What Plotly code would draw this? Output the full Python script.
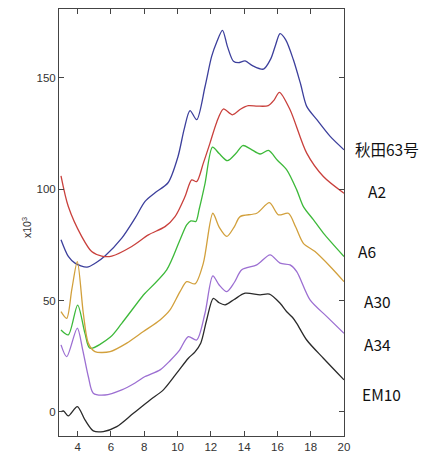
import plotly.graph_objects as go

# ---------------- data ----------------
series_names = ["秋田63号", "A2", "A6", "A30", "A34", "EM10"]

x_akita = [3, 3.44, 3.84, 4.56, 5.1, 5.64, 6.65, 7.45, 8.05, 8.65, 9.43, 10.03, 10.4, 10.75,
           11.15, 11.65, 12.05, 12.35, 12.7, 13.0, 13.36, 13.66, 14.06, 14.5, 15.16, 15.6,
           15.9, 16.16, 16.5, 16.96, 17.4, 17.76, 18.37, 19.17, 20]
y_akita = [77.3, 69.8, 66.8, 65.0, 67.0, 70.0, 78.0, 87.0, 94.5, 98.4, 102.9, 114.7, 127, 135.3,
           131.2, 146, 159.6, 166, 171.3, 164, 157.4, 156.8, 157.6, 155.5, 153.9, 158.5,
           165, 169.8, 167, 158.1, 147, 137.2, 131.2, 123.7, 117.7]

x_a2 = [3, 3.44, 4.24, 4.84, 5.45, 6.05, 7.25, 8.25, 9.25, 9.85, 10.45, 10.85, 11.15, 11.55,
        11.95, 12.35, 12.75, 13.3, 13.8, 14.25, 14.8, 15.45, 15.8, 16.12, 16.76, 17.76, 18.76, 20]
y_a2 = [106, 92.2, 78.8, 72, 70, 70, 74.3, 79.5, 83.2, 87.7, 96.7, 104.2, 103.4, 111.7,
        120.7, 130, 136, 133.4, 136, 137.5, 137.3, 137.5, 140, 143.5, 135.7, 116.2, 105.7, 98.2]

x_a6 = [3, 3.44, 4.0, 4.44, 4.74, 5.95, 6.65, 7.95, 8.05, 9.35, 10.15, 10.55, 10.8, 11.1, 11.3,
        11.65, 12.1, 12.5, 13.0, 13.5, 13.92, 14.4, 14.96, 15.46, 16.0, 16.56, 17.16, 17.56,
        18.16, 18.76, 20]
y_a6 = [36.8, 34.6, 48, 35.3, 28.6, 33.5, 39.8, 52.5, 53.3, 63.8, 77.3, 84, 85.8, 85.5, 91,
        102.5, 118.9, 116, 112.8, 116, 119.6, 118, 115.8, 117.4, 113, 108.7, 99.7, 92.2,
        86.3, 80.3, 69.8]

x_a30 = [3, 3.34, 3.65, 3.98, 4.34, 4.64, 5.04, 5.95, 6.95, 7.95, 8.95, 9.55, 10.15, 10.55,
         11.05, 11.55, 12.12, 12.5, 12.96, 13.4, 13.76, 14.76, 15.52, 16.06, 16.66, 17.1,
         17.56, 18.26, 19.17, 20]
y_a30 = [45, 42, 55, 67.5, 44.3, 30.9, 27.1, 27.1, 30.9, 36.1, 41.3, 45.8, 54, 58.5,
         57.5, 66.8, 89.2, 83, 78.8, 83, 87.7, 89.2, 94, 88.5, 89.2, 83,
         75.7, 72, 65.3, 58.5]

x_a34 = [3, 3.34, 3.98, 4.3, 4.64, 4.94, 5.64, 6.65, 7.45, 8.05, 8.95, 9.55, 10.1, 10.65,
         11.15, 11.65, 12.12, 12.5, 12.96, 13.4, 13.86, 14.76, 15.56, 16.16, 16.76, 17.16,
         17.96, 18.97, 20]
y_a34 = [30.1, 24.8, 37.6, 28, 15.9, 8.4, 7.6, 9.9, 13, 15.9, 18.9, 23, 27.5, 33.8,
         32.3, 44.3, 61.1, 57, 54, 58, 63.8, 66, 70.5, 66.8, 66, 63,
         50.3, 42.8, 35.3]

x_em10 = [3, 3.15, 3.44, 3.98, 4.44, 4.94, 5.54, 6.35, 7.35, 8.35, 9.15, 9.95, 10.65, 11.05,
          11.4, 11.75, 12.15, 12.5, 12.86, 13.4, 14.06, 14.96, 15.52, 16.16, 16.56, 16.9,
          17.16, 17.76, 18.76, 20]
y_em10 = [0.1, 0.5, -1.8, 2.4, -3.6, -8.5, -8.8, -6.6, -0.6, 5.4, 9.9, 17.4, 24.1, 27,
          31, 41.3, 51, 49, 48.1, 50.5, 53.3, 52.6, 52.9, 48.8, 45, 42.5,
          39.8, 32.3, 24.1, 14.4]

x_ticks = [4, 6, 8, 10, 12, 14, 16, 18, 20]
y_ticks = [0, 50, 100, 150]
y_unit_label = "x10<sup>3</sup>"

# ---------------- styling ----------------
xs = [x_akita, x_a2, x_a6, x_a30, x_a34, x_em10]
ys = [y_akita, y_a2, y_a6, y_a30, y_a34, y_em10]
colors = ["#3c3f9c", "#c9403c", "#3db93a", "#d2a03c", "#9c6fd2", "#2a2a2a"]

W, H = 431, 455
L, R, T, B = 59, 344, 9, 436   # plot area in pixels


def paper_x(px):
    return (px - L) / (R - L)


def paper_y(py):
    return (B - py) / (B - T)


label_px = [(387, 149), (377, 191), (367, 251), (377, 301), (377, 344), (381, 394)]

fig = go.Figure()
for name, x, y, c in zip(series_names, xs, ys, colors):
    fig.add_trace(go.Scatter(x=x, y=y, mode="lines", name=name,
                             line=dict(color=c, width=1.3, shape="spline", smoothing=0.8),
                             showlegend=False, hoverinfo="skip"))

for name, (px, py) in zip(series_names, label_px):
    fig.add_annotation(text=name, xref="paper", yref="paper", x=paper_x(px), y=paper_y(py),
                       xanchor="center", yanchor="middle", showarrow=False,
                       font=dict(family="Noto Sans CJK JP", size=15.5, color="#111"))

fig.add_annotation(text=y_unit_label, xref="paper", yref="paper", x=paper_x(26), y=paper_y(228),
                   xanchor="center", yanchor="middle", showarrow=False, textangle=-90,
                   font=dict(family="Liberation Sans", size=10.5, color="#333"))

axis_common = dict(showgrid=False, zeroline=False, showline=True, linecolor="#444",
                   linewidth=1, mirror="ticks", ticks="inside", ticklen=5, tickwidth=1,
                   automargin=False,
                   tickcolor="#444", tickfont=dict(family="Liberation Sans", size=11.5, color="#333"))

fig.update_xaxes(range=[2.88, 20], tickvals=x_ticks, **axis_common)
fig.update_yaxes(range=[-10.8, 180.9], tickvals=y_ticks, **axis_common)

fig.update_layout(width=W, height=H,
                  margin=dict(l=L, r=W - R, t=T, b=H - B, pad=0, autoexpand=False),
                  paper_bgcolor="white", plot_bgcolor="white")

fig.write_html("out.html", config={"displayModeBar": False},
               post_script="document.body.style.margin='0';document.body.style.overflow='hidden';")
